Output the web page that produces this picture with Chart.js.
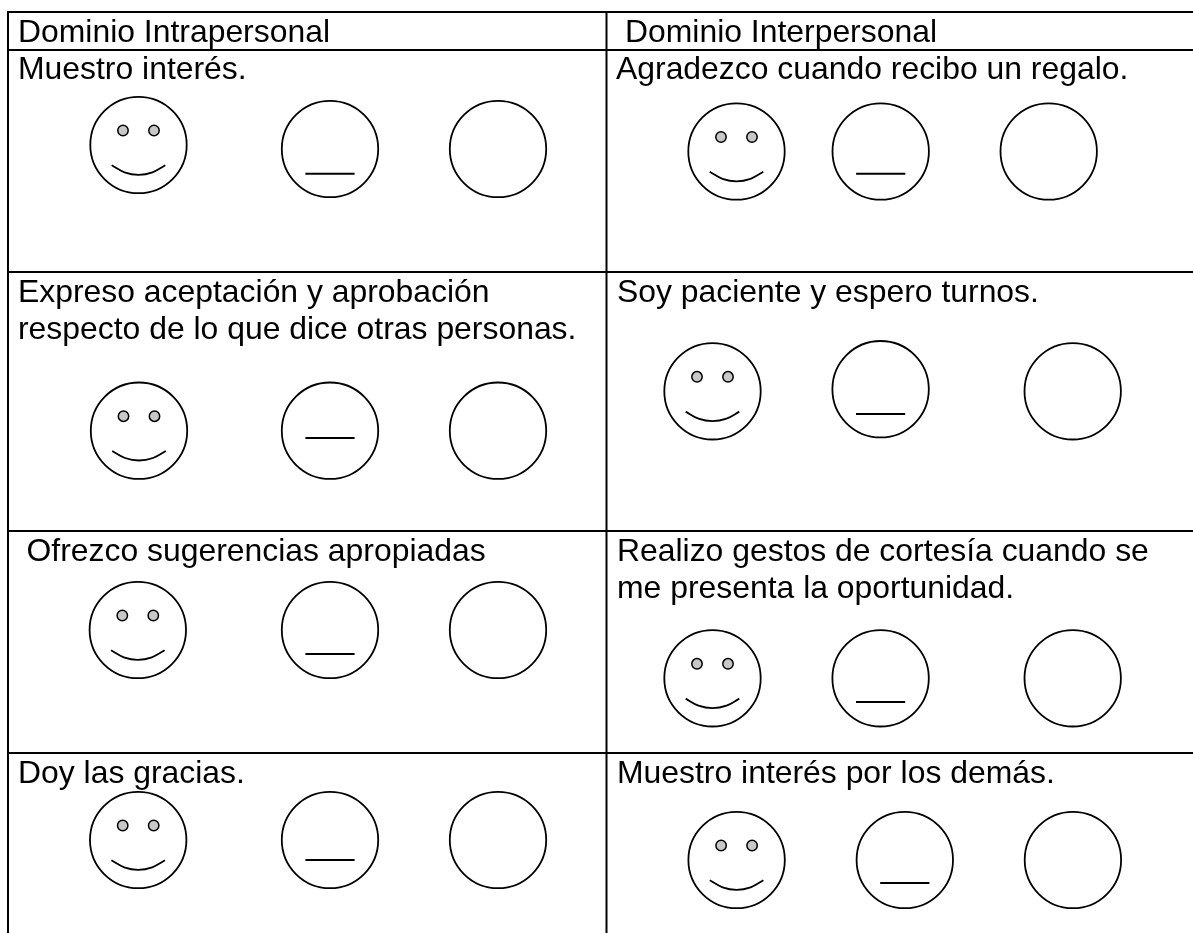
<!DOCTYPE html>
<html>
<head>
<meta charset="utf-8">
<script src="https://cdn.jsdelivr.net/npm/chart.js@4"></script>
<style>
html, body { margin: 0; padding: 0; background: #fff; overflow: hidden; }
canvas { display: block; }
</style>
</head>
<body>
<canvas id="faceChart" width="1193" height="933"></canvas>
<script>
// texts of the table, with the x and the baseline y of each line
var labelTexts = ['Dominio Intrapersonal', 'Dominio Interpersonal',
    'Muestro interés.', 'Agradezco cuando recibo un regalo.',
    'Expreso aceptación y aprobación', 'respecto de lo que dice otras personas.', 'Soy paciente y espero turnos.',
    'Ofrezco sugerencias apropiadas', 'Realizo gestos de cortesía cuando se', 'me presenta la oportunidad.',
    'Doy las gracias.', 'Muestro interés por los demás.'];
var labelX = [18, 625, 18, 616, 18, 18, 617, 26.5, 617, 617, 18, 617];
var labelY = [41.5, 41.5, 79, 79, 301.5, 338.5, 301.5, 560.5, 560.5, 597.5, 782.5, 782.5];

// table rules
var ruleY = [12, 50, 272, 531, 753];
var ruleX = [8, 606.5];

// face centres, left column first, then right column
var happyX = [138.5, 139, 137.8, 138.2, 736.5, 712.5, 712.5, 736.6];
var happyY = [145, 430.7, 630, 840, 151.5, 391.3, 678.3, 860];
var neutralX = [330, 330, 330, 330, 880.7, 880.6, 880.6, 904.8];
var neutralY = [149, 430.7, 630, 840, 151.5, 389.2, 678.3, 860];
var emptyX = [498, 498, 498, 498, 1048.7, 1072.7, 1072.7, 1072.9];
var emptyY = [149, 430.7, 630, 840, 151.5, 391.3, 678.3, 860];

// mouth of the neutral face, y read per face
var neutralMouthY = [173.7, 438, 654, 860, 173.7, 414, 702, 883];

// eyes and smile relative to the centre of a happy face
var eyeDx = [-15.5, 15.5];
var eyeDy = -14.5;
var smileDx = [-26.8, -14, 0, 14, 26.8];
var smileDy = [20.3, 27.3, 29.8, 27.3, 20.3];
var neutralMouthHalf = 24.6;

function lineSet(points, width, tension) {
    return {
        type: 'line',
        data: points,
        borderColor: '#000',
        borderWidth: width,
        pointRadius: 0,
        tension: tension || 0,
        fill: false
    };
}

function circleSet(xs, ys, radius, fillColor, width) {
    return {
        type: 'scatter',
        data: xs.map(function (x, i) { return { x: x, y: ys[i] }; }),
        pointRadius: radius,
        pointBackgroundColor: fillColor,
        pointBorderColor: '#000',
        pointBorderWidth: width
    };
}

var datasets = [];

ruleY.forEach(function (y) {
    datasets.push(lineSet([{ x: ruleX[0] - 1, y: y }, { x: 1193, y: y }], 2));
});
ruleX.forEach(function (x) {
    datasets.push(lineSet([{ x: x, y: ruleY[0] - 1 }, { x: x, y: 933 }], 2));
});

datasets.push(circleSet(happyX, happyY, 48.2, 'rgba(0,0,0,0)', 1.8));
datasets.push(circleSet(neutralX, neutralY, 48.2, 'rgba(0,0,0,0)', 1.8));
datasets.push(circleSet(emptyX, emptyY, 48.2, 'rgba(0,0,0,0)', 1.8));

var eyeX = [];
var eyeY = [];
happyX.forEach(function (x, i) {
    eyeDx.forEach(function (dx) {
        eyeX.push(x + dx);
        eyeY.push(happyY[i] + eyeDy);
    });
    datasets.push(lineSet(smileDx.map(function (dx, k) {
        return { x: x + dx, y: happyY[i] + smileDy[k] };
    }), 1.8, 0.4));
});
datasets.push(circleSet(eyeX, eyeY, 5.2, '#c8c8c8', 1.5));

neutralX.forEach(function (x, i) {
    datasets.push(lineSet([
        { x: x - neutralMouthHalf, y: neutralMouthY[i] },
        { x: x + neutralMouthHalf, y: neutralMouthY[i] }
    ], 2));
});

var tableText = {
    id: 'tableText',
    afterDatasetsDraw: function (chart) {
        var c = chart.ctx;
        c.save();
        c.fillStyle = '#000';
        c.font = '31.9px "Liberation Sans", Arial, sans-serif';
        c.textAlign = 'left';
        c.textBaseline = 'alphabetic';
        labelTexts.forEach(function (t, i) {
            c.fillText(t, chart.scales.x.getPixelForValue(labelX[i]), chart.scales.y.getPixelForValue(labelY[i]));
        });
        c.restore();
    }
};

var ctx = document.getElementById('faceChart').getContext('2d');
var chart = new Chart(ctx, {
    type: 'scatter',
    data: { datasets: datasets },
    plugins: [tableText],
    options: {
        responsive: false,
        animation: false,
        events: [],
        layout: { padding: 0, autoPadding: false },
        plugins: {
            legend: { display: false },
            title: { display: false },
            tooltip: { enabled: false }
        },
        scales: {
            x: { type: 'linear', min: 0, max: 1193, display: false },
            y: { type: 'linear', min: 0, max: 933, reverse: true, display: false }
        }
    }
});
</script>
</body>
</html>
